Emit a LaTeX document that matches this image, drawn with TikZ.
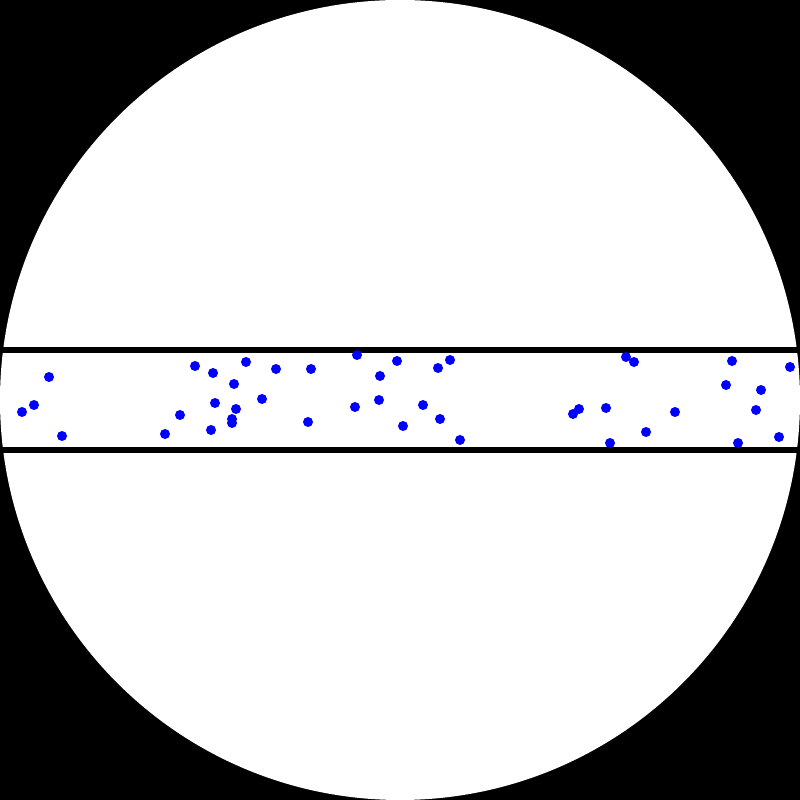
\documentclass[tikz,border=0pt]{standalone}
\usepackage{tikz}
\definecolor{particleblue}{rgb}{0, 0, 1}
\tikzset{
  wall/.style={black, line width=1.9pt},
  particle/.style={fill=particleblue}
}
\begin{document}
\begin{tikzpicture}
  % background and field of view
  \fill[black] (0, 0) rectangle (8, 8);
  \useasboundingbox (0, 0) rectangle (8, 8);
  \fill[white] (4, 4) circle (4cm);
  % channel walls
  \coordinate (tl) at (0, 4.5);
  \coordinate (tr) at (8, 4.5);
  \coordinate (bl) at (0, 3.5);
  \coordinate (br) at (8, 3.5);
  \draw[wall] (tl) -- (tr);
  \draw[wall] (bl) -- (br);
  % particles in the channel
  \foreach \px/\py in {0.49/4.23, 0.34/3.95, 0.22/3.88, 0.62/3.64,
      1.95/4.34, 2.13/4.27, 2.46/4.38, 2.34/4.16, 2.62/4.01, 2.15/3.97,
      2.36/3.91, 1.80/3.85, 2.32/3.81, 2.32/3.77, 2.11/3.70, 1.65/3.66,
      2.76/4.31, 3.11/4.31, 3.57/4.45, 3.97/4.39, 4.50/4.40, 4.38/4.32,
      3.80/4.24, 3.55/3.93, 3.79/4.00, 4.23/3.95, 3.08/3.78, 4.40/3.81,
      4.03/3.74, 4.60/3.60,
      6.26/4.43, 6.34/4.38, 7.32/4.39, 7.90/4.33, 7.26/4.15, 7.61/4.10,
      5.79/3.91, 5.73/3.86, 6.06/3.92, 6.75/3.88, 7.56/3.90, 6.46/3.68,
      6.10/3.57, 7.38/3.57, 7.79/3.63}
    \fill[particle] (\px, \py) circle (0.05cm);
\end{tikzpicture}
\end{document}
